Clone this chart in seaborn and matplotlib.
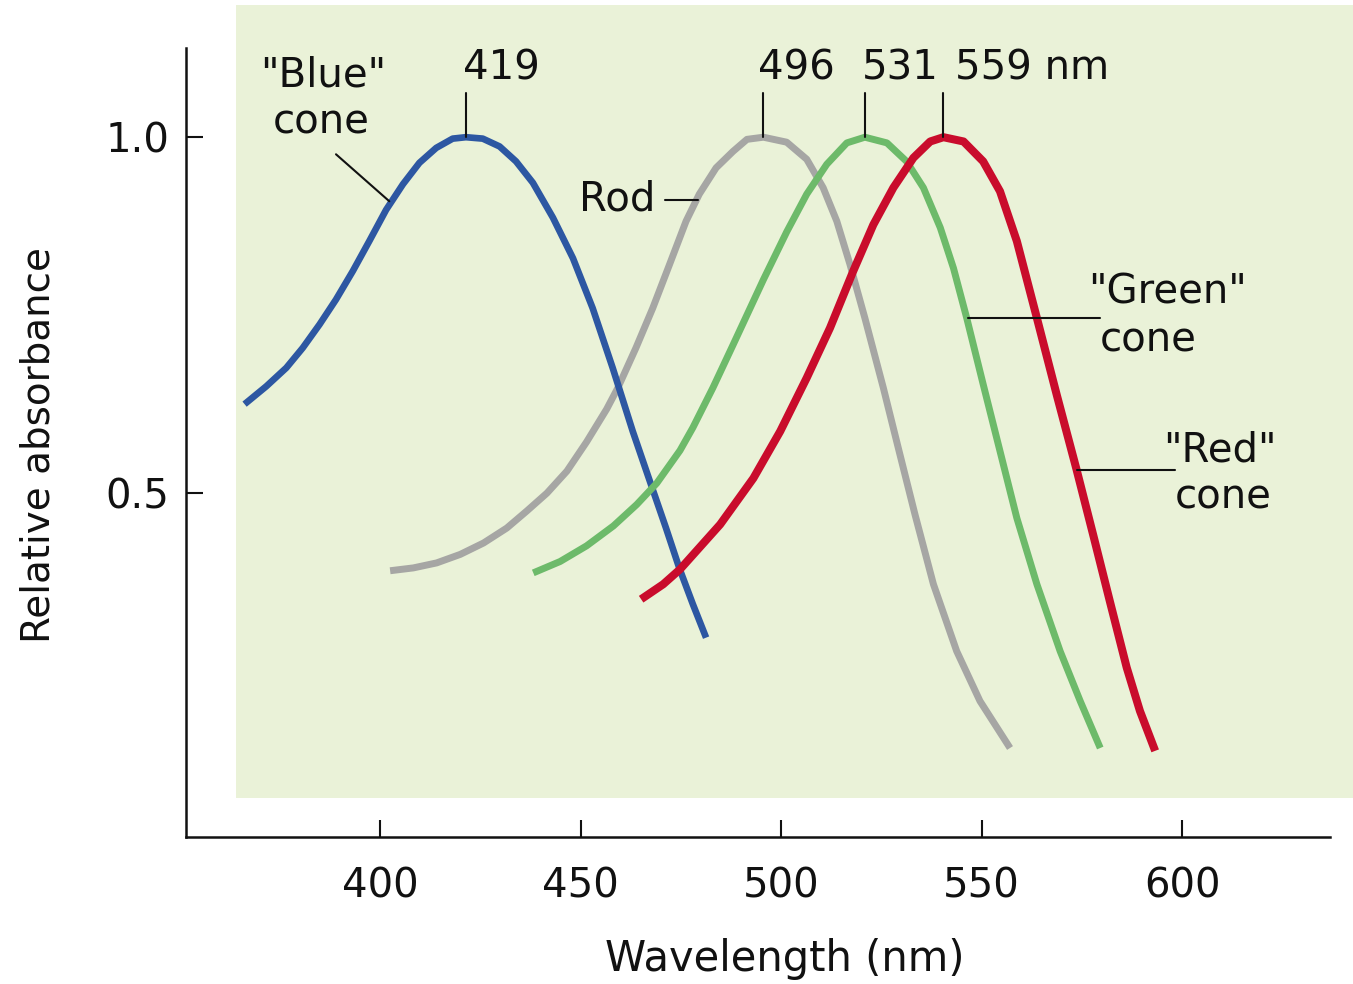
import matplotlib
matplotlib.use("Agg")
import matplotlib.pyplot as plt
from matplotlib.patches import Rectangle
import pandas as pd
import seaborn as sns

# absorbance spectra (wavelength in nm, relative absorbance)
blue_nm = [366.2, 371.6, 376.6, 380.7, 384.9, 389.0, 393.2, 397.3, 401.5, 405.7,
           409.8, 414.0, 418.1, 421.4, 425.6, 429.8, 433.9, 438.1, 443.1, 448.1,
           453.0, 458.0, 463.0, 467.2, 471.3, 474.6, 478.0, 481.3]
blue_abs = [0.625, 0.650, 0.676, 0.704, 0.737, 0.772, 0.812, 0.854, 0.898, 0.934,
            0.964, 0.985, 0.998, 1.0, 0.998, 0.987, 0.966, 0.936, 0.887, 0.830,
            0.760, 0.676, 0.587, 0.518, 0.451, 0.395, 0.344, 0.297]

rod_nm = [402.5, 408.3, 414.1, 420.0, 425.8, 431.6, 436.6, 441.6, 446.6, 451.5,
          456.5, 459.3, 463.8, 468.0, 472.1, 476.3, 479.6, 483.8, 488.0, 491.5,
          495.6, 501.4, 506.4, 510.5, 513.9, 517.2, 520.9, 525.5, 529.3, 533.4,
          538.0, 543.8, 549.6, 557.1]
rod_abs = [0.391, 0.395, 0.402, 0.414, 0.430, 0.451, 0.475, 0.500, 0.531, 0.572,
           0.618, 0.648, 0.704, 0.760, 0.820, 0.882, 0.920, 0.957, 0.980, 0.997,
           1.0, 0.993, 0.969, 0.929, 0.882, 0.821, 0.746, 0.648, 0.562, 0.470,
           0.372, 0.278, 0.208, 0.142]

green_nm = [438.2, 444.9, 451.5, 458.2, 464.0, 469.0, 474.8, 478.0, 483.0, 488.0,
            495.6, 501.4, 506.4, 511.4, 516.4, 520.9, 526.4, 531.3, 535.5, 539.7,
            543.0, 546.3, 550.4, 554.6, 558.8, 563.8, 569.6, 574.6, 579.6]
green_abs = [0.388, 0.404, 0.426, 0.454, 0.484, 0.514, 0.560, 0.592, 0.648, 0.708,
             0.800, 0.867, 0.920, 0.962, 0.992, 1.0, 0.992, 0.966, 0.929, 0.873,
             0.816, 0.746, 0.653, 0.559, 0.465, 0.372, 0.278, 0.208, 0.142]

red_nm = [465.1, 470.6, 474.8, 484.8, 493.1, 499.8, 506.4, 512.2, 518.0, 523.0,
          528.0, 533.0, 537.2, 540.5, 545.5, 550.4, 554.6, 558.8, 563.8, 568.8,
          573.7, 577.9, 582.0, 586.2, 589.5, 593.3]
red_abs = [0.351, 0.372, 0.393, 0.456, 0.521, 0.587, 0.662, 0.732, 0.812, 0.877,
           0.929, 0.971, 0.994, 1.0, 0.994, 0.966, 0.924, 0.854, 0.746, 0.637,
           0.533, 0.440, 0.348, 0.255, 0.194, 0.138]

pigments = ["Rod", "Blue", "Green", "Red"]  # draw order, red ends up on top
peak_labels = ["419", "496", "531", "559 nm"]
x_ticks = [400, 450, 500, 550, 600]
y_ticks = [0.5, 1.0]

colors = {"Blue": "#2d57a2", "Rod": "#a6a6a4", "Green": "#6dba6a", "Red": "#c90c2c"}
widths = {"Blue": 4.8, "Rod": 5.0, "Green": 5.0, "Red": 5.8}
BG = "#eaf2d8"
INK = "#111111"
FS = 29

frames = []
for name, xs, ys in [("Blue", blue_nm, blue_abs), ("Rod", rod_nm, rod_abs),
                     ("Green", green_nm, green_abs), ("Red", red_nm, red_abs)]:
    frames.append(pd.DataFrame({"wavelength": xs, "absorbance": ys, "pigment": name}))
df = pd.concat(frames, ignore_index=True)

sns.set_style("ticks")
plt.rcParams["font.family"] = ["DejaVu Sans"]
plt.rcParams["text.color"] = INK
plt.rcParams["axes.labelcolor"] = INK
plt.rcParams["xtick.color"] = INK
plt.rcParams["ytick.color"] = INK

fig = plt.figure(figsize=(13.53, 9.84), dpi=100, facecolor="white")
# pale green panel behind the curves, runs off the right edge of the figure
fig.patches.append(Rectangle((0.1744, 0.189), 0.83, 0.806, transform=fig.transFigure,
                             facecolor=BG, edgecolor="none", zorder=-5))
ax = fig.add_axes([0.1375, 0.1494, 0.8455, 0.8016])
ax.set_facecolor("none")

sns.lineplot(data=df, x="wavelength", y="absorbance", hue="pigment",
             hue_order=pigments, palette=colors, sort=False, estimator=None,
             legend=False, ax=ax)
for line, name in zip(ax.lines, pigments):
    line.set_linewidth(widths[name])
    line.set_solid_capstyle("butt")
    line.set_solid_joinstyle("round")

ax.set_xlim(351.6, 636.9)
ax.set_ylim(0.017, 1.125)
ax.set_xticks(x_ticks)
ax.set_yticks(y_ticks)
ax.set_yticklabels([f"{v:.1f}" for v in y_ticks])
ax.tick_params(axis="both", direction="in", length=12, width=1.5, labelsize=FS)
ax.tick_params(axis="x", pad=21)
ax.tick_params(axis="y", pad=12)
for side in ["top", "right"]:
    ax.spines[side].set_visible(False)
for side in ["left", "bottom"]:
    ax.spines[side].set_linewidth(1.8)
    ax.spines[side].set_color(INK)

ax.set_xlabel("Wavelength (nm)", fontsize=30)
ax.xaxis.set_label_coords(0.523, -0.128)
ax.set_ylabel("Relative absorbance", fontsize=28)
ax.yaxis.set_label_coords(-0.112, 0.497)

# peak markers: short vertical tick above each curve maximum
curves = {"Blue": (blue_nm, blue_abs), "Rod": (rod_nm, rod_abs),
          "Green": (green_nm, green_abs), "Red": (red_nm, red_abs)}
label_x = [420.7, 494.3, 520.2, 543.4]
for name, lab, lx in zip(["Blue", "Rod", "Green", "Red"], peak_labels, label_x):
    xs, ys = curves[name]
    i = ys.index(max(ys))
    ax.plot([xs[i], xs[i]], [ys[i], 1.062], color=INK, lw=1.5, clip_on=False)
    ax.text(lx, 1.097, lab, fontsize=FS, ha="left", va="center")

# "Blue" cone label with slanted pointer
ax.text(370.1, 1.087, '"Blue"', fontsize=FS, ha="left", va="center")
ax.text(373.3, 1.020, "cone", fontsize=FS, ha="left", va="center")
ax.plot([389.0, 402.3], [0.976, 0.910], color=INK, lw=1.5)

# Rod label
ax.text(468.6, 0.912, "Rod", fontsize=FS, ha="right", va="center")
ax.plot([471.1, 479.3], [0.912, 0.912], color=INK, lw=1.5)

# "Green" cone label
ax.text(576.5, 0.782, '"Green"', fontsize=FS, ha="left", va="center")
ax.text(579.6, 0.715, "cone", fontsize=FS, ha="left", va="center")
ax.plot([546.6, 579.6], [0.746, 0.746], color=INK, lw=1.5)

# "Red" cone label
ax.text(595.3, 0.560, '"Red"', fontsize=FS, ha="left", va="center")
ax.text(598.3, 0.494, "cone", fontsize=FS, ha="left", va="center")
ax.plot([573.9, 598.3], [0.532, 0.532], color=INK, lw=1.5)

fig.savefig("out.png", dpi=100, facecolor="white")
